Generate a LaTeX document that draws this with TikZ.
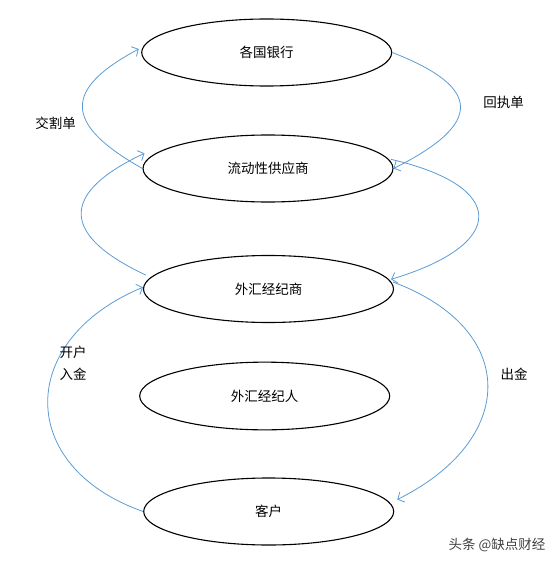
\documentclass[tikz,border=0pt]{standalone}
\usepackage{fontspec}
\setmainfont{Noto Sans CJK SC}
\usetikzlibrary{shapes.geometric,arrows.meta}
\definecolor{flowblue}{RGB}{91,155,213}
\begin{document}
\begin{tikzpicture}[x=1pt,y=-1pt,
  every node/.style={font=\fontsize{13.5}{16}\selectfont},
  entity/.style={ellipse,draw=black,line width=1.1pt,minimum width=250pt,minimum height=67pt,inner sep=0pt},
  flow/.style={draw=flowblue,line width=0.8pt,-{Straight Barb[length=5pt,width=11pt]}},
  lbl/.style={inner sep=0pt,align=center}]
\useasboundingbox (0,0) rectangle (558,564);
\node[entity] (bank) at (266.7,52.5) {各国银行};
\node[entity] (lp) at (268,168.5) {流动性供应商};
\node[entity] (broker) at (268.5,289) {外汇经纪商};
\node[entity,minimum height=67.7pt] (agent) at (264.7,396) {外汇经纪人};
\node[entity] (client) at (268.7,511.5) {客户};

% 交割单
\draw[flow] (lp.west) .. controls +(-80,-45) and +(-75,40) .. ([shift={(-2.4,-3.5)}]bank.west);
% 回执单
\draw[flow] (bank.east) .. controls +(90,35) and +(90,-45) .. (lp.east);
% broker -> lp (left)
\draw[flow] ([shift={(2.7,-14)}]broker.west) .. controls +(-85,-40) and +(-85,40) .. ([shift={(2,-15.2)}]lp.west);
% lp -> broker (right)
\draw[flow] ([shift={(-2.7,-9.2)}]lp.east) .. controls +(117,27) and +(117,-35) .. ([shift={(-3,-9.7)}]broker.east);
% 开户 入金
\draw[flow] (client.west) .. controls +(-128,-45) and +(-126,52) .. ([shift={(0,-1.7)}]broker.west);
% 出金
\draw[flow] ([shift={(-1,-7)}]broker.east) .. controls +(128,48) and +(119,-59) .. ([shift={(3,-12)}]client.east);

\node[lbl] (l1) at (55.5,123) {交割单};
\node[lbl] (l2) at (503.5,102) {回执单};
\node[lbl] (l3) at (73,352) {开户};
\node[lbl] (l4) at (73,374) {入金};
\node[lbl] (l5) at (514,374) {出金};
\node[lbl,text=black!75] (wm) at (497,545) {头条 @缺点财经};
\end{tikzpicture}
\end{document}
